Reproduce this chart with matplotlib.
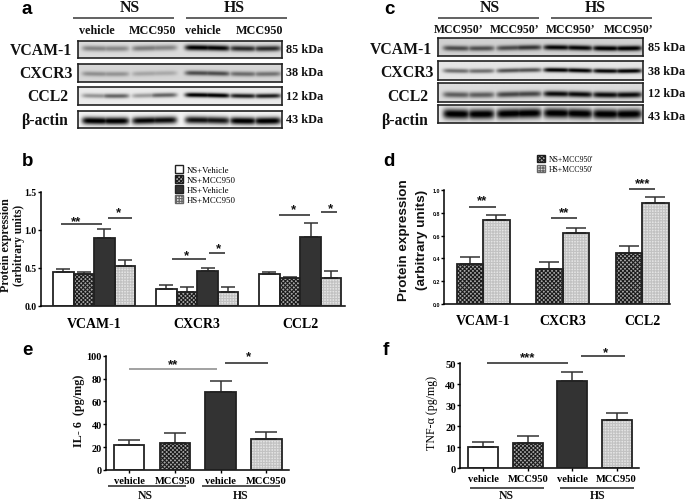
import numpy as np
import matplotlib
matplotlib.use("Agg")
import matplotlib.pyplot as plt
from matplotlib.patches import Patch

W, H = 685, 502
SERIF = "Liberation Serif"
SANS = "Liberation Sans"

plt.rcParams["font.family"] = SERIF
plt.rcParams["hatch.linewidth"] = 0.8

# bar data
genes = ["VCAM-1", "CXCR3", "CCL2"]
groups_b = ["NS+Vehicle", "NS+MCC950", "HS+Vehicle", "HS+MCC950"]
b_vals = [[0.45, 0.22, 0.42], [0.42, 0.18, 0.36], [0.89, 0.46, 0.91], [0.52, 0.18, 0.37]]
b_tops = [[0.48, 0.27, 0.44], [0.45, 0.24, 0.38], [1.01, 0.49, 1.09], [0.60, 0.24, 0.46]]

groups_d = ["NS+MCC950'", "HS+MCC950'"]
d_vals = [[0.35, 0.31, 0.45], [0.74, 0.62, 0.89]]
d_tops = [[0.41, 0.37, 0.505], [0.785, 0.665, 0.935]]

treat = ["vehicle", "MCC950", "vehicle", "MCC950"]
il6_vals = [21.5, 24, 68, 27]
il6_tops = [26, 32, 78, 33]
tnf_vals = [10, 12, 41.5, 23]
tnf_tops = [12.5, 15.5, 46, 26.5]

# blot band darkness per lane
blot_a = {
    "VCAM-1": [0.38, 0.36, 0.42, 0.38, 0.98, 0.95, 0.78, 0.78],
    "CXCR3": [0.32, 0.30, 0.22, 0.20, 0.62, 0.62, 0.48, 0.45],
    "CCL2": [0.35, 0.55, 0.32, 0.55, 1.00, 1.00, 0.85, 0.85],
    "β-actin": [1.00, 1.00, 0.95, 0.92, 0.90, 0.88, 1.00, 1.00],
}
blot_c = {
    "VCAM-1": [0.62, 0.60, 0.62, 0.72, 0.95, 0.95, 1.00, 1.00],
    "CXCR3": [0.50, 0.50, 0.62, 0.62, 0.98, 0.98, 0.95, 0.98],
    "CCL2": [0.55, 0.55, 0.65, 0.65, 0.92, 0.92, 0.92, 0.92],
    "β-actin": [1.00, 1.00, 1.00, 1.00, 1.00, 1.00, 1.00, 1.00],
}
kda = ["85 kDa", "38 kDa", "12 kDa", "43 kDa"]

fig = plt.figure(figsize=(W / 100, H / 100), dpi=100)


def axes_px(x0, y0, x1, y1):
    # y0 is the top edge, y1 the bottom edge, both in image pixels
    return fig.add_axes([x0 / W, 1 - y1 / H, (x1 - x0) / W, (y1 - y0) / H])


def draw_bar(ax, x, h, top, kind, width):
    if kind == "hatch_dark":
        ax.bar(x, h, width, align="edge", color="#a8a8a8", edgecolor="#1c1c1c", hatch="xxxxxxxx", lw=0)
    elif kind == "hatch_light":
        ax.bar(x, h, width, align="edge", color="#e4e4e4", edgecolor="#c2c2c2", hatch="++++++", lw=0)
    elif kind == "dark":
        ax.bar(x, h, width, align="edge", color="#333333", lw=0)
    else:
        ax.bar(x, h, width, align="edge", color="white", lw=0)
    ax.errorbar(x + width / 2, h, yerr=[[0], [top - h]], color="#333333", elinewidth=1.1,
                capsize=width * 0.36 * CAP[id(ax)], capthick=1.1, zorder=1)
    ax.bar(x, h, width, align="edge", fill=False, edgecolor="#222222", lw=1.3, zorder=3)


def style_axis(ax, ysize, xsize, ticks_font=SERIF):
    ax.spines["top"].set_visible(False)
    ax.spines["right"].set_visible(False)
    ax.spines["left"].set_linewidth(1.1)
    ax.spines["bottom"].set_linewidth(1.1)
    ax.tick_params(axis="y", length=2, width=1, pad=1)
    for t in ax.get_yticklabels():
        t.set_fontsize(ysize)
        t.set_fontweight("bold")
        t.set_family(ticks_font)
    for t in ax.get_xticklabels():
        t.set_fontsize(xsize)
        t.set_fontweight("bold")


def legend_handle(kind):
    if kind == "hatch_dark":
        return Patch(facecolor="#a8a8a8", edgecolor="#1c1c1c", hatch="xxxxxxxx", lw=1)
    if kind == "hatch_light":
        return Patch(facecolor="#e4e4e4", edgecolor="#666666", hatch="++++++", lw=1)
    if kind == "dark":
        return Patch(facecolor="#333333", edgecolor="#222222", lw=1)
    return Patch(facecolor="white", edgecolor="#222222", lw=1)


CAP = {}

# panel b
ax = axes_px(41, 192.7, 345, 306.7)
CAP[id(ax)] = 20.6 * 0.72
kinds = ["white", "hatch_dark", "dark", "hatch_light"]
for i, kind in enumerate(kinds):
    for j in range(3):
        draw_bar(ax, j * 5 + i, b_vals[i][j], b_tops[i][j], kind, 1)
ax.set_xlim(-0.58, 14.17)
ax.set_ylim(0, 1.5)
ax.set_yticks([0, 0.5, 1.0, 1.5], ["0.0", "0.5", "1.0", "1.5"])
ax.set_xticks([2, 7, 12], genes)
ax.tick_params(axis="x", length=0, pad=8)
style_axis(ax, 7, 10)
fig.legend(handles=[legend_handle(k) for k in kinds], labels=groups_b, loc="upper left",
           bbox_to_anchor=(175 / W, 1 - 166 / H), frameon=False, fontsize=6.3, handlelength=0.9,
           handleheight=1.0, labelspacing=0.12, handletextpad=0.4, borderpad=0, borderaxespad=0)

# panel d
ax = axes_px(444, 191, 670, 305)
CAP[id(ax)] = 26.5 * 0.72
kinds_d = ["hatch_dark", "hatch_light"]
for i, kind in enumerate(kinds_d):
    for j in range(3):
        draw_bar(ax, j * 3 + i, d_vals[i][j], d_tops[i][j], kind, 1)
ax.set_xlim(-0.48, 8.05)
ax.set_ylim(0, 1.0)
ax.set_yticks([0, 0.2, 0.4, 0.6, 0.8, 1.0], ["0.0", "0.2", "0.4", "0.6", "0.8", "1.0"])
ax.set_xticks([1, 4, 7], genes)
ax.tick_params(axis="x", length=0, pad=7)
style_axis(ax, 3.8, 10, SANS)
fig.legend(handles=[legend_handle(k) for k in kinds_d], labels=groups_d, loc="upper left",
           bbox_to_anchor=(536.5 / W, 1 - 156 / H), frameon=False, fontsize=5.6, handlelength=1.1,
           handleheight=1.0, labelspacing=0.25, handletextpad=0.5, borderpad=0, borderaxespad=0)

# panel e
ax = axes_px(106, 356.7, 289, 471)
CAP[id(ax)] = 30.5 * 0.72
for i, kind in enumerate(kinds):
    draw_bar(ax, i * 1.5, il6_vals[i], il6_tops[i], kind, 1)
ax.set_xlim(-0.26, 5.74)
ax.set_ylim(0, 100)
ax.set_yticks([0, 20, 40, 60, 80, 100])
ax.set_xticks([0.5, 2, 3.5, 5], treat)
ax.tick_params(axis="x", length=2, width=1, pad=2)
style_axis(ax, 7.4, 7.6)

# panel f
ax = axes_px(460, 364.3, 639, 469.3)
CAP[id(ax)] = 30 * 0.72
for i, kind in enumerate(kinds):
    draw_bar(ax, i * 1.48, tnf_vals[i], tnf_tops[i], kind, 1)
ax.set_xlim(-0.28, 5.69)
ax.set_ylim(0, 50)
ax.set_yticks([0, 10, 20, 30, 40, 50])
ax.set_xticks([0.5, 1.98, 3.46, 4.94], treat)
ax.tick_params(axis="x", length=2, width=1, pad=2)
style_axis(ax, 7.7, 7.6)


def blot(box, lanes, lane_centers, bg, thick, yc, spread=0.066):
    x = np.linspace(0, 1, int(box[2] - box[0]) * 3)
    y = np.linspace(0, 1, int(box[3] - box[1]) * 3)
    prof = np.zeros_like(x)
    for c, d in zip(lane_centers, lanes):
        prof = np.maximum(prof, d * np.exp(-(np.abs(x - c) / spread) ** 6))
    tilt = yc + 0.03 * np.sin(x * 9)
    img = 1 - np.outer(np.ones_like(y), prof) * np.exp(-((y[:, None] - tilt) / thick) ** 2) * 1.05
    img = np.clip(img, 0, 1) * bg
    ax = axes_px(*box)
    ax.imshow(img, cmap="gray", vmin=0, vmax=1, aspect="auto", extent=(0, 1, 1, 0), interpolation="bilinear")
    ax.set_xticks([])
    ax.set_yticks([])
    for s in ax.spines.values():
        s.set_linewidth(1.2)
        s.set_color("#222222")


centers_a = [0.085, 0.185, 0.33, 0.42, 0.59, 0.68, 0.81, 0.93]
centers_c = [0.09, 0.21, 0.35, 0.44, 0.58, 0.69, 0.82, 0.93]
rows_a = [(41.7, 59.3), (65, 83), (88, 106), (112, 129)]
rows_c = [(39, 57), (62, 81), (84, 103), (106, 124)]
bg_a = [0.86, 0.84, 0.92, 0.95]
bg_c = [0.82, 0.90, 0.86, 0.90]
thick_a = [0.16, 0.14, 0.13, 0.22]
thick_c = [0.15, 0.12, 0.16, 0.28]
yc_a = [0.45, 0.53, 0.47, 0.56]
yc_c = [0.55, 0.5, 0.6, 0.48]

for i, name in enumerate(genes + ["β-actin"]):
    blot((78, rows_a[i][0], 282, rows_a[i][1]), blot_a[name], centers_a, bg_a[i], thick_a[i], yc_a[i])
    blot((438.3, rows_c[i][0], 642.7, rows_c[i][1]), blot_c[name], centers_c, bg_c[i], thick_c[i], yc_c[i])

# overlay in image pixels for annotations
ov = fig.add_axes([0, 0, 1, 1], zorder=10)
ov.set_xlim(0, W)
ov.set_ylim(H, 0)
ov.axis("off")


def txt(x, y, s, size, weight="bold", family=SERIF, ha="center", rot=0, color="#111111", va="center"):
    ov.text(x, y, s, fontsize=size, fontweight=weight, family=family, ha=ha, va=va,
            rotation=rot, color=color)


def rule(x0, x1, y, color="#222222", lw=1.1):
    ov.plot([x0, x1], [y, y], color=color, lw=lw, solid_capstyle="butt")


def star(x, y, s):
    txt(x, y + 2, s, 9.5, family=SANS)


# blot headers
for x, y, s in [(130, 8, "NS"), (234, 8, "HS"), (490, 8, "NS"), (595, 8, "HS")]:
    txt(x, y, s, 11.3)
for x0, x1 in [(73, 174), (186, 287), (438, 539), (551, 652)]:
    rule(x0, x1, 19, "#555555", 1.3)
for x, s in zip([97, 153, 203, 260], treat):
    txt(x, 31, s, 8.7)
for x in [459, 515, 571, 629]:
    txt(x, 30, "MCC950’", 8.5)
for x, y, s in [(41, 51, "VCAM-1"), (46, 74, "CXCR3"), (48, 97, "CCL2"), (45, 121, "β-actin"),
                (401, 50, "VCAM-1"), (407, 73, "CXCR3"), (408, 97, "CCL2"), (405, 121, "β-actin")]:
    txt(x, y, s, 11.3)
for y, s in zip([50, 73, 97, 120], kda):
    txt(286, y, s, 8.8, ha="left")
for y, s in zip([48, 72, 94, 117], kda):
    txt(648, y, s, 8.8, ha="left")

# panel letters
for x, y, s in [(27, 14, "a"), (389, 14, "c"), (28, 166, "b"), (389, 166, "d"), (27, 355, "e"), (386, 355, "f")]:
    txt(x, y, s, 13.5, family=SANS, color="black", va="baseline")

# axis titles
txt(6, 245, "Protein expression", 8.6, rot=90)
txt(19, 245, "(arbitrary units)", 8.3, rot=90)
txt(404, 240, "Protein expression", 9.7, family=SANS, rot=90)
txt(422, 240, "(arbitrary units)", 9.7, family=SANS, rot=90)
txt(79, 411, "IL- 6  (pg/mg)", 8.7, rot=90)
txt(432, 413, "TNF-α (pg/mg)", 8.6, weight="normal", rot=90, color="black")

# significance marks
for x0, x1, y in [(60.7, 101.7, 225), (108, 132, 219), (172, 206, 260), (209, 225, 253.7),
                  (279, 310, 215.7), (321, 337, 213), (469, 496, 207.7), (551, 577, 219),
                  (629, 655, 190), (225, 268, 364), (487, 568, 364), (581, 625, 357)]:
    rule(x0, x1, y)
rule(129, 217, 370, "#888888")
for x, y, s in [(76, 220, "**"), (118.7, 210.7, "*"), (186, 254, "*"), (218, 247, "*"),
                (293, 208, "*"), (330, 207, "*"), (482, 199, "**"), (564, 211, "**"), (643, 182, "***"),
                (173, 363, "**"), (248, 355, "*"), (528, 356, "***"), (605, 351, "*")]:
    star(x, y, s)

# NS / HS group brackets under e and f
for x0, x1, y in [(108, 186, 487), (202, 280, 487), (470, 544, 489), (560, 634, 489)]:
    rule(x0, x1, y)
for x, y, s in [(145, 496, "NS"), (241, 496, "HS"), (506, 496.5, "NS"), (598, 496.5, "HS")]:
    txt(x, y, s, 8.5)

fig.savefig("out.png", dpi=100)
